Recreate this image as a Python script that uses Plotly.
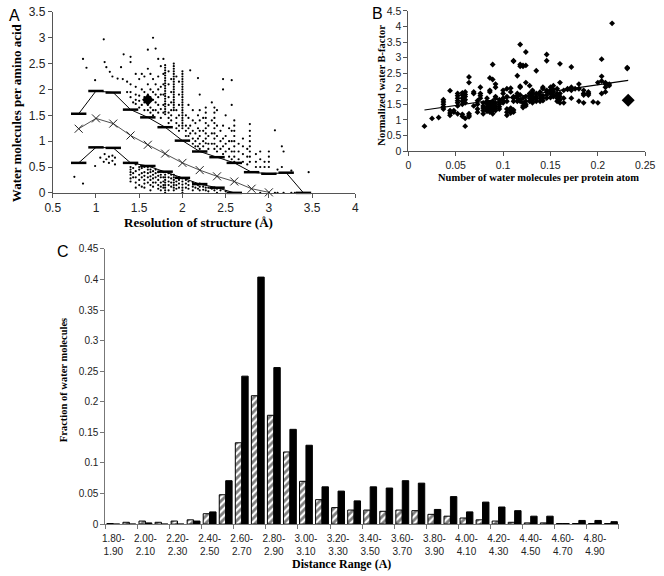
import plotly.graph_objects as go

W, H = 664, 576

# ---------------- Panel A data ----------------
a_res = [0.8, 1.0, 1.2, 1.4, 1.6, 1.8, 2.0, 2.2, 2.4, 2.6, 2.8, 3.0, 3.2, 3.4]
a_upper = [1.53, 1.97, 1.94, 1.61, 1.46, 1.27, 1.01, 0.80, 0.69, 0.58, 0.40, 0.37, 0.39, 0.0]
a_mid_res = [0.8, 1.0, 1.2, 1.4, 1.6, 1.8, 2.0, 2.2, 2.4, 2.6, 2.8, 3.0]
a_mid = [1.24, 1.44, 1.34, 1.11, 0.93, 0.76, 0.58, 0.44, 0.32, 0.22, 0.08, 0.01]
a_low_res = [0.8, 1.0, 1.2, 1.4, 1.6, 1.8, 2.0, 2.2, 2.4, 2.6]
a_lower = [0.58, 0.88, 0.87, 0.58, 0.52, 0.41, 0.29, 0.17, 0.10, 0.0]
a_special_x = [1.6]
a_special_y = [1.8]

# scatter dots: columns of (resolution, values)
a_cols = [
    (0.75, [0.31]),
    (0.85, [0.18, 2.59]),
    (0.89, [2.42]),
    (0.99, [2.18, 0.52]),
    (1.05, [0.68]),
    (1.09, [2.97, 0.60]),
    (1.10, [2.53, 0.75]),
    (1.12, [2.43, 0.65]),
    (1.15, [0.70, 0.58]),
    (1.16, [2.34]),
    (1.19, [2.25, 0.62, 0.72]),
    (1.22, [0.55, 0.68]),
    (1.25, [2.21]),
    (1.29, [2.43]),
    (1.31, [2.20]),
    (1.32, [2.68]),
    (1.36, [2.15, 1.95]),
    (1.40, [2.63, 2.53, 2.10, 1.95, 1.85, 0.50, 0.45, 0.40, 0.35, 0.28, 0.22]),
    (1.43, [1.75, 0.48, 0.38, 0.30]),
    (1.46, [2.30, 2.05, 1.90, 1.80, 1.72, 0.55, 0.42, 0.30, 0.20, 0.10]),
    (1.50, [2.20, 1.88, 1.78, 1.65, 0.50, 0.45, 0.35, 0.25, 0.15]),
    (1.53, [2.30, 2.00, 1.70, 0.48, 0.38, 0.30, 0.12]),
    (1.56, [2.25, 1.95, 1.85, 1.75, 1.60, 0.50, 0.40, 0.33, 0.25, 0.18, 0.10]),
    (1.60, [2.77, 2.40, 2.10, 1.90, 1.70, 1.60, 0.50, 0.45, 0.38, 0.30, 0.20]),
    (1.63, [2.30, 2.00, 1.85, 1.65, 1.55, 0.45, 0.40, 0.32, 0.25, 0.15, 0.05]),
    (1.66, [3.00, 2.20, 1.95, 1.80, 1.60, 1.50, 0.42, 0.35, 0.28, 0.20, 0.12]),
    (1.69, [2.79, 2.10, 1.90, 1.75, 1.60, 0.45, 0.38, 0.30, 0.20]),
    (1.72, [2.59, 2.25, 2.00, 1.85, 1.70, 1.55, 0.40, 0.33, 0.25, 0.15, 0.08]),
    (1.75, [2.45, 2.05, 1.90, 1.62, 1.45, 0.42, 0.35, 0.30, 0.20, 0.12, 0.05]),
    (1.78, [2.59, 2.30, 2.10, 1.90, 1.70, 1.55, 0.40, 0.30, 0.22, 0.15, 0.10]),
    (1.80, [2.47, 2.42, 2.37, 2.32, 2.27, 2.22, 2.17, 2.12, 2.07, 2.02, 1.97, 1.92,
            1.87, 1.82, 1.77, 1.72, 1.67, 1.62, 1.57, 1.52, 0.40, 0.35, 0.30, 0.25,
            0.20, 0.15, 0.10, 0.05, 0.0]),
    (1.84, [2.35, 2.10, 1.85, 1.70, 1.55, 1.45, 1.35, 0.38, 0.30, 0.22, 0.15, 0.05]),
    (1.87, [2.20, 1.95, 1.75, 1.60, 1.50, 1.40, 0.35, 0.28, 0.20, 0.12]),
    (1.90, [2.50, 2.45, 2.40, 2.35, 2.30, 2.25, 2.20, 2.15, 2.10, 2.05, 2.00, 1.95,
            1.90, 1.85, 1.80, 1.75, 1.70, 1.65, 1.60, 0.35, 0.30, 0.25, 0.20, 0.15,
            0.10, 0.05]),
    (1.93, [2.25, 1.60, 1.45, 1.35, 1.25, 0.30, 0.22, 0.15, 0.08]),
    (1.96, [2.15, 1.90, 1.70, 1.50, 1.30, 1.20, 0.30, 0.25, 0.18, 0.10]),
    (2.00, [2.35, 2.30, 2.25, 2.20, 2.15, 2.10, 2.05, 2.00, 1.95, 1.90, 1.85, 1.80,
            1.75, 1.70, 1.65, 1.60, 1.55, 1.50, 1.45, 1.40, 1.35, 1.30, 1.25, 0.28,
            0.22, 0.16, 0.10, 0.05, 0.0]),
    (2.04, [1.50, 1.30, 1.20, 1.10, 0.25, 0.18, 0.10]),
    (2.07, [1.70, 1.45, 1.25, 1.10, 0.22, 0.15, 0.08]),
    (2.09, [2.37, 1.30, 1.15]),
    (2.12, [1.60, 1.40, 1.20, 1.05, 0.95, 0.20, 0.12, 0.05]),
    (2.15, [1.35, 1.15, 1.00, 0.90, 0.18, 0.10]),
    (2.18, [2.22, 1.50, 1.25, 1.05, 0.90, 0.15, 0.08]),
    (2.20, [1.90, 1.60, 1.40, 1.20, 1.10, 0.95, 0.85, 0.18, 0.12, 0.05]),
    (2.24, [1.45, 1.20, 1.00, 0.90, 0.12, 0.06]),
    (2.27, [1.65, 1.55, 1.45, 1.35, 1.25, 1.15, 1.05, 0.96, 0.10, 0.05]),
    (2.30, [1.30, 1.10, 0.95, 0.85, 0.10, 0.03]),
    (2.34, [1.75, 1.40, 1.15, 0.95, 0.08]),
    (2.37, [1.65, 1.55, 1.45, 1.35, 1.25, 1.15, 1.05, 0.95, 0.85, 0.10, 0.05]),
    (2.40, [1.60, 1.30, 1.10, 0.90, 0.80, 0.08, 0.0]),
    (2.44, [1.20, 1.00, 0.85, 0.05]),
    (2.47, [2.20, 2.00, 1.30, 1.05, 0.90, 0.75]),
    (2.50, [1.50, 1.10, 0.95, 0.80, 0.03]),
    (2.54, [1.25, 1.00, 0.85, 0.70]),
    (2.57, [2.18, 1.70, 1.20, 1.00, 0.80, 0.65]),
    (2.60, [1.40, 1.30, 1.20, 1.10, 1.00, 0.90, 0.80, 0.70, 0.60]),
    (2.65, [0.95, 0.80, 0.65]),
    (2.70, [1.05, 0.90, 0.75, 0.60]),
    (2.75, [0.85, 0.70, 0.55]),
    (2.78, [1.33, 1.20, 1.10, 1.00, 0.90, 0.80, 0.70, 0.60]),
    (2.85, [0.75, 0.60, 0.50]),
    (2.90, [0.80, 0.65, 0.50, 0.0]),
    (2.95, [0.60, 0.50]),
    (3.00, [0.80, 0.70, 0.60, 0.50, 0.0]),
    (3.07, [1.21, 0.0]),
    (3.10, [0.45, 0.0]),
    (3.15, [0.90, 0.50]),
    (3.17, [0.80, 0.0]),
    (3.26, [0.43, 0.0]),
    (3.30, [0.0]),
    (3.46, [0.40]),
]

# ---------------- Panel B data ----------------
b_cols = [
    (0.017, [0.80]),
    (0.025, [1.05]),
    (0.032, [1.08]),
    (0.037, [1.35, 1.42, 1.50, 1.58, 1.65]),
    (0.044, [1.94, 1.15, 1.22, 1.30]),
    (0.048, [1.30, 1.25]),
    (0.052, [1.45, 1.55, 1.62, 1.70, 1.78, 1.85, 1.20]),
    (0.057, [1.50, 1.60, 1.70, 1.80, 1.87, 1.12, 1.18]),
    (0.060, [1.55, 1.65, 1.75, 1.82, 1.90, 0.80, 1.05]),
    (0.064, [2.20, 2.38, 1.10, 1.15, 1.20]),
    (0.069, [1.85, 1.90, 1.45]),
    (0.073, [1.25, 1.35, 1.50, 1.62]),
    (0.076, [2.05, 1.70, 1.78, 1.85]),
    (0.079, [1.20, 1.30, 1.38, 1.45, 1.55]),
    (0.083, [1.28, 1.35, 1.42, 1.52, 1.60, 1.70]),
    (0.086, [2.35, 1.25, 1.30, 1.40, 1.48, 1.55, 1.90, 1.95]),
    (0.089, [2.30, 2.78, 1.20, 1.30, 1.38, 1.45, 1.52, 1.60]),
    (0.092, [2.15, 2.05, 1.30, 1.38, 1.45, 1.55, 1.70, 1.75]),
    (0.096, [1.35, 1.42, 1.50, 1.58, 1.65]),
    (0.100, [1.55, 1.62, 1.70, 1.85, 1.95]),
    (0.104, [1.15, 1.25, 1.35, 1.60, 1.75, 2.00]),
    (0.108, [1.22, 1.30, 1.38, 1.90, 2.02]),
    (0.111, [2.90, 2.88, 1.25, 1.32, 1.60, 1.70, 1.75]),
    (0.115, [2.42, 1.60, 1.70, 1.78, 1.85]),
    (0.118, [3.42, 2.72, 2.78, 2.05, 2.08, 1.60, 1.65, 1.80]),
    (0.121, [2.72, 2.75, 1.40, 1.45, 1.55, 1.70]),
    (0.124, [3.18, 2.75, 1.45, 1.50, 1.60, 1.75, 2.20]),
    (0.128, [1.60, 1.70, 1.78, 1.85, 2.10]),
    (0.131, [1.55, 1.65, 1.72, 1.80, 1.90, 1.95]),
    (0.135, [2.58, 1.60, 1.68, 1.75, 1.85]),
    (0.139, [1.60, 1.70, 1.80, 1.90]),
    (0.142, [1.62, 1.70, 1.78, 2.05, 2.00]),
    (0.146, [3.10, 2.90, 1.70, 1.80, 1.90, 1.95]),
    (0.150, [1.72, 1.85, 1.95, 2.05]),
    (0.153, [1.75, 1.80, 1.90, 1.98, 2.10]),
    (0.157, [1.60, 1.70, 1.78, 1.85, 2.00]),
    (0.160, [2.80, 1.55, 1.65, 1.75, 1.85, 2.20]),
    (0.164, [1.55, 1.70, 1.95]),
    (0.168, [1.98, 2.00]),
    (0.172, [2.70, 1.70, 1.95, 2.05]),
    (0.176, [2.00]),
    (0.180, [1.60, 2.00, 2.15]),
    (0.185, [1.55, 1.80, 1.85, 1.95]),
    (0.190, [1.80, 1.85, 1.90]),
    (0.195, [1.58]),
    (0.200, [1.55, 2.20]),
    (0.204, [2.95, 2.25, 2.40, 1.85]),
    (0.208, [1.90, 2.05, 2.15, 2.20]),
    (0.212, [2.10, 2.15]),
    (0.215, [4.10]),
    (0.231, [2.65, 2.68]),
]
b_trend_x = [0.017, 0.232]
b_trend_y = [1.32, 2.27]
b_special_x = [0.232]
b_special_y = [1.63]

# ---------------- Panel C data ----------------
c_ranges = ["1.80-1.90", "1.90-2.00", "2.00-2.10", "2.10-2.20", "2.20-2.30", "2.30-2.40",
            "2.40-2.50", "2.50-2.60", "2.60-2.70", "2.70-2.80", "2.80-2.90", "2.90-3.00",
            "3.00-3.10", "3.10-3.20", "3.20-3.30", "3.30-3.40", "3.40-3.50", "3.50-3.60",
            "3.60-3.70", "3.70-3.80", "3.80-3.90", "3.90-4.00", "4.00-4.10", "4.10-4.20",
            "4.20-4.30", "4.30-4.40", "4.40-4.50", "4.50-4.60", "4.60-4.70", "4.70-4.80",
            "4.80-4.90", "4.90-5.00"]
c_hatched = [0.001, 0.003, 0.005, 0.003, 0.005, 0.007, 0.017, 0.048, 0.133, 0.210,
             0.178, 0.118, 0.070, 0.040, 0.027, 0.023, 0.023, 0.021, 0.023, 0.022,
             0.016, 0.013, 0.010, 0.007, 0.005, 0.003, 0.002, 0.002, 0.001, 0.001,
             0.001, 0.001]
c_black = [0.0, 0.0, 0.002, 0.0, 0.0, 0.005, 0.020, 0.071, 0.242, 0.404,
           0.256, 0.155, 0.129, 0.061, 0.054, 0.038, 0.061, 0.059, 0.071, 0.067,
           0.024, 0.045, 0.020, 0.036, 0.028, 0.022, 0.013, 0.013, 0.001, 0.006,
           0.006, 0.004]

# ---------------- figure ----------------
def px_x(p):
    return p / W

def px_y(p):
    return 1 - p / H

ax_x, ax_y = [], []
for xv, ys in a_cols:
    for yv in ys:
        ax_x.append(xv)
        ax_y.append(yv)

bx, by = [], []
for xv, ys in b_cols:
    for yv in ys:
        bx.append(xv)
        by.append(yv)

fig = go.Figure()

# Panel A
fig.add_trace(go.Scatter(x=ax_x, y=ax_y, mode="markers", xaxis="x", yaxis="y",
                         marker=dict(symbol="circle", size=2.2, color="black"),
                         showlegend=False, cliponaxis=False))
fig.add_trace(go.Scatter(x=a_res, y=a_upper, mode="lines+markers", xaxis="x", yaxis="y",
                         line=dict(color="black", width=1),
                         marker=dict(symbol="line-ew", size=11, line=dict(color="black", width=2.5)),
                         showlegend=False, cliponaxis=False))
fig.add_trace(go.Scatter(x=a_mid_res, y=a_mid, mode="lines+markers", xaxis="x", yaxis="y",
                         line=dict(color="#222", width=0.8),
                         marker=dict(symbol="x-thin", size=8, line=dict(color="#222", width=1)),
                         showlegend=False, cliponaxis=False))
fig.add_trace(go.Scatter(x=a_low_res, y=a_lower, mode="lines+markers", xaxis="x", yaxis="y",
                         line=dict(color="black", width=1),
                         marker=dict(symbol="line-ew", size=11, line=dict(color="black", width=2.5)),
                         showlegend=False, cliponaxis=False))
fig.add_trace(go.Scatter(x=a_special_x, y=a_special_y, mode="markers", xaxis="x", yaxis="y",
                         marker=dict(symbol="diamond", size=9, color="black"),
                         showlegend=False))

# Panel B
fig.add_trace(go.Scatter(x=bx, y=by, mode="markers", xaxis="x2", yaxis="y2",
                         marker=dict(symbol="diamond", size=4.5, color="black"),
                         showlegend=False))
fig.add_trace(go.Scatter(x=b_trend_x, y=b_trend_y, mode="lines", xaxis="x2", yaxis="y2",
                         line=dict(color="black", width=1.2), showlegend=False))
fig.add_trace(go.Scatter(x=b_special_x, y=b_special_y, mode="markers", xaxis="x2", yaxis="y2",
                         marker=dict(symbol="diamond", size=10, color="black"),
                         showlegend=False))

# Panel C
idx = list(range(len(c_ranges)))
fig.add_trace(go.Bar(x=idx, y=c_hatched, xaxis="x3", yaxis="y3", showlegend=False,
                     marker=dict(color="white", line=dict(color="black", width=1),
                                 pattern=dict(shape="/", fgcolor="black", bgcolor="white",
                                              size=5, solidity=0.55))))
fig.add_trace(go.Bar(x=idx, y=c_black, xaxis="x3", yaxis="y3", showlegend=False,
                     marker=dict(color="black", line=dict(color="black", width=1))))

tick_font = dict(family="Liberation Sans, Arial", color="#222")
axis_common = dict(showline=True, linecolor="#555", linewidth=1, ticks="outside",
                   tickcolor="#555", ticklen=4, showgrid=False, zeroline=False)

fig.update_layout(
    width=W, height=H, margin=dict(l=0, r=0, t=0, b=0),
    paper_bgcolor="white", plot_bgcolor="white",
    barmode="group", bargap=0.2, bargroupgap=0,
    xaxis=dict(domain=[px_x(46), px_x(357)], anchor="y", range=[0.5, 4], dtick=0.5,
               tickfont=dict(size=12, **tick_font), **axis_common),
    yaxis=dict(domain=[px_y(190.5), px_y(5)], anchor="x", range=[0, 3.5], dtick=0.5,
               tickfont=dict(size=12, **tick_font), **axis_common),
    xaxis2=dict(domain=[px_x(411.5), px_x(655)], anchor="y2", range=[0, 0.25], dtick=0.05,
                tickfont=dict(size=10.5, **tick_font), **axis_common),
    yaxis2=dict(domain=[px_y(147.7), px_y(4)], anchor="x2", range=[0, 4.5], dtick=0.5,
                tickfont=dict(size=10.5, **tick_font), **axis_common),
    xaxis3=dict(domain=[px_x(100), px_x(628)], anchor="y3", range=[-0.5, len(c_ranges) - 0.5],
                tickvals=idx[::2], ticktext=[r.replace("-", "-<br>") for r in c_ranges[::2]],
                ticks="", ticklabelstandoff=5,
                minor=dict(tickvals=[i - 0.5 for i in range(0, len(c_ranges) + 1, 2)],
                           ticks="outside", ticklen=4, tickcolor="#777"),
                tickfont=dict(size=10, **tick_font),
                showline=True, linecolor="#777", linewidth=1, showgrid=False, zeroline=False),
    yaxis3=dict(domain=[px_y(530), px_y(248)], anchor="x3", range=[0, 0.45], dtick=0.05,
                tickfont=dict(size=10, **tick_font),
                showline=True, linecolor="#777", linewidth=1, ticks="outside", tickcolor="#777",
                ticklen=4, showgrid=False, zeroline=False),
)

serif = "Liberation Serif, Times New Roman, serif"
sans = "Liberation Sans, Arial, sans-serif"
annots = [
    dict(text="A", x=px_x(7), y=px_y(9), font=dict(family=sans, size=16, color="black")),
    dict(text="B", x=px_x(380), y=px_y(7), font=dict(family=sans, size=16, color="black")),
    dict(text="C", x=px_x(57), y=px_y(251), font=dict(family=sans, size=16, color="black")),
    dict(text="<b>Water molecules per amino acid</b>", x=px_x(9), y=px_y(108), textangle=-90,
         font=dict(family=serif, size=13, color="black")),
    dict(text="<b>Resolution of structure (Å)</b>", x=px_x(196), y=px_y(221),
         font=dict(family=serif, size=13, color="black")),
    dict(text="<b>Normalized water B-factor</b>", x=px_x(383), y=px_y(80), textangle=-90,
         font=dict(family=serif, size=10.5, color="black")),
    dict(text="<b>Number of water molecules per protein atom</b>", x=px_x(545), y=px_y(175),
         font=dict(family=serif, size=10.5, color="black")),
    dict(text="<b>Fraction of water molecules</b>", x=px_x(57), y=px_y(382), textangle=-90,
         font=dict(family=serif, size=10.5, color="black")),
    dict(text="<b>Distance Range (A)</b>", x=px_x(343), y=px_y(571),
         font=dict(family=serif, size=12, color="black")),
]
for a in annots:
    a.update(xref="paper", yref="paper", showarrow=False, xanchor="center", yanchor="middle")
fig.update_layout(annotations=annots)

fig.write_html("out.html", config={"displayModeBar": False},
               post_script="document.body.style.margin='0px';")
